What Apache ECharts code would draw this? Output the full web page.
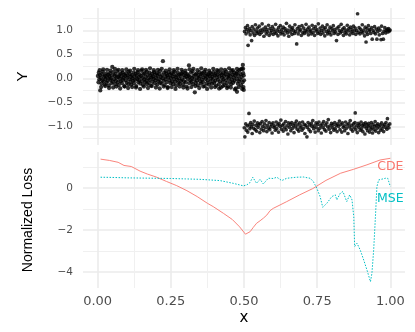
<!DOCTYPE html>
<html>
<head>
<meta charset="utf-8">
<script src="https://cdn.jsdelivr.net/npm/echarts@6/dist/echarts.min.js"></script>
<style>
  html, body { margin: 0; padding: 0; background: #fff; }
  #chart { width: 415px; height: 332px; }
</style>
</head>
<body>
<div id="chart"></div>
<script>
// top panel: noisy samples, y ~ 0 left of 0.5, y ~ +/-1 right of it
var leftPoints = [
  [0.001,0.05],[0.003,-0.08],[0.004,0.12],[0.006,-0.02],[0.008,0.07],[0.009,-0.25],[0.011,0.01],[0.013,-0.11],[0.015,0.09],[0.016,-0.04],
  [0.018,0.14],[0.02,-0.06],[0.022,0.03],[0.024,-0.13],[0.025,0.06],[0.027,-0.01],[0.029,0.1],[0.031,-0.09],[0.033,0.02],[0.034,-0.05],
  [0.036,0.08],[0.038,-0.15],[0.04,0.04],[0.042,0.11],[0.043,-0.03],[0.045,0.0],[0.047,-0.1],[0.049,0.06],[0.05,0.24],[0.052,-0.07],
  [0.054,0.13],[0.056,-0.02],[0.058,0.05],[0.06,-0.12],[0.061,0.09],[0.063,-0.05],[0.065,0.02],[0.067,0.15],[0.069,-0.08],[0.07,0.03],
  [0.072,-0.14],[0.074,0.07],[0.076,-0.01],[0.078,0.1],[0.079,-0.06],[0.081,0.04],[0.083,-0.1],[0.085,0.12],[0.087,-0.03],[0.088,0.01],
  [0.09,0.08],[0.092,-0.17],[0.094,0.05],[0.096,-0.04],[0.097,0.11],[0.099,-0.09],[0.101,0.02],[0.103,0.06],[0.105,-0.12],[0.106,0.14],
  [0.108,-0.02],[0.11,0.09],[0.112,-0.07],[0.114,0.03],[0.115,-0.13],[0.117,0.07],[0.119,0.0],[0.121,-0.05],[0.123,0.12],[0.124,-0.1],
  [0.126,0.04],[0.128,-0.03],[0.13,0.1],[0.132,-0.16],[0.133,0.06],[0.135,-0.01],[0.137,0.13],[0.139,-0.08],[0.141,0.02],[0.142,-0.04],
  [0.144,0.08],[0.146,-0.11],[0.148,0.05],[0.15,0.16],[0.151,-0.06],[0.153,0.01],[0.155,-0.14],[0.157,0.09],[0.159,-0.02],[0.16,0.11],
  [0.162,-0.08],[0.164,0.03],[0.166,-0.05],[0.168,0.14],[0.169,-0.12],[0.171,0.07],[0.173,0.0],[0.175,-0.09],[0.177,0.12],[0.178,-0.03],
  [0.18,0.06],[0.182,-0.15],[0.184,0.02],[0.186,0.1],[0.187,-0.07],[0.189,0.04],[0.191,-0.01],[0.193,0.13],[0.195,-0.1],[0.196,0.08],
  [0.198,-0.04],[0.2,0.01],[0.202,0.11],[0.204,-0.13],[0.205,0.05],[0.207,-0.06],[0.209,0.09],[0.211,-0.02],[0.213,0.15],[0.214,-0.09],
  [0.216,0.03],[0.218,-0.11],[0.22,0.07],[0.222,0.0],[0.223,0.36],[0.225,-0.05],[0.227,0.12],[0.229,-0.14],[0.231,0.04],[0.232,-0.02],
  [0.234,0.1],[0.236,-0.08],[0.238,0.06],[0.24,-0.18],[0.241,0.02],[0.243,0.13],[0.245,-0.04],[0.247,0.08],[0.249,-0.1],[0.25,0.01],
  [0.252,0.11],[0.254,-0.06],[0.256,0.04],[0.258,-0.12],[0.259,0.09],[0.261,-0.01],[0.263,0.14],[0.265,-0.07],[0.267,0.03],[0.268,-0.15],
  [0.27,0.06],[0.272,-0.03],[0.274,0.12],[0.276,-0.09],[0.277,0.0],[0.279,0.08],[0.281,-0.11],[0.283,0.05],[0.285,-0.05],[0.286,0.1],
  [0.288,-0.02],[0.29,0.13],[0.292,-0.13],[0.294,0.07],[0.295,-0.06],[0.297,0.02],[0.299,0.11],[0.301,-0.08],[0.303,0.04],[0.304,-0.17],
  [0.306,0.09],[0.308,-0.01],[0.31,0.06],[0.312,0.27],[0.313,-0.1],[0.315,0.03],[0.317,-0.04],[0.319,0.12],[0.321,-0.07],[0.322,0.01],
  [0.324,0.15],[0.326,-0.12],[0.328,0.05],[0.33,-0.02],[0.332,-0.29],[0.333,0.08],[0.335,-0.09],[0.337,0.1],[0.339,-0.05],[0.34,0.02],
  [0.342,-0.14],[0.344,0.07],[0.346,0.0],[0.348,0.13],[0.35,-0.06],[0.351,0.04],[0.353,-0.11],[0.355,0.09],[0.357,-0.03],[0.358,0.11],
  [0.36,-0.08],[0.362,0.02],[0.364,0.14],[0.366,-0.16],[0.367,0.06],[0.369,-0.01],[0.371,0.1],[0.373,-0.1],[0.375,0.03],[0.376,-0.04],
  [0.378,0.08],[0.38,-0.13],[0.382,0.05],[0.384,0.12],[0.385,-0.07],[0.387,0.0],[0.389,0.09],[0.391,-0.11],[0.393,0.04],[0.394,-0.02],
  [0.396,0.13],[0.398,-0.09],[0.4,0.06],[0.402,-0.05],[0.403,0.1],[0.405,-0.15],[0.407,0.02],[0.409,0.08],[0.411,-0.03],[0.412,0.15],
  [0.414,-0.12],[0.416,0.04],[0.418,-0.06],[0.42,0.11],[0.421,-0.19],[0.423,0.07],[0.425,0.01],[0.427,-0.08],[0.429,0.12],[0.43,-0.02],
  [0.432,0.05],[0.434,-0.14],[0.436,0.09],[0.438,-0.04],[0.439,0.14],[0.441,-0.1],[0.443,0.03],[0.445,-0.17],[0.447,0.07],[0.448,0.0],
  [0.45,0.11],[0.452,-0.07],[0.454,0.04],[0.456,-0.12],[0.457,0.16],[0.459,-0.03],[0.461,0.08],[0.463,-0.09],[0.465,0.02],[0.466,0.12],
  [0.468,-0.05],[0.47,0.06],[0.472,-0.21],[0.474,0.1],[0.475,-0.01],[0.476,-0.28],[0.477,0.13],[0.479,-0.11],[0.481,0.05],[0.483,-0.06],[0.484,0.17],
  [0.486,-0.02],[0.488,0.09],[0.49,-0.14],[0.492,0.03],[0.493,0.2],[0.495,-0.08],[0.496,0.28],[0.497,0.11],[0.498,-0.18],[0.499,0.06],[0.5,-0.04],
  [0.007,0.17],[0.012,-0.18],[0.019,0.19],[0.026,-0.16],[0.032,0.18],[0.039,-0.2],[0.044,0.16],[0.053,-0.19],[0.059,0.2],[0.064,-0.17],
  [0.071,0.18],[0.077,-0.21],[0.084,0.17],[0.091,-0.16],[0.098,0.19],[0.104,-0.2],[0.111,0.16],[0.118,-0.18],[0.125,0.2],[0.131,-0.19],
  [0.138,0.17],[0.145,-0.22],[0.152,0.19],[0.158,-0.17],[0.165,0.18],[0.172,-0.2],[0.179,0.21],[0.185,-0.16],[0.192,0.17],[0.199,-0.19],
  [0.206,0.18],[0.212,-0.21],[0.219,0.2],[0.226,-0.17],[0.233,0.16],[0.239,-0.2],[0.246,0.19],[0.253,-0.18],[0.26,0.17],[0.266,-0.22],
  [0.273,0.2],[0.28,-0.17],[0.287,0.18],[0.293,-0.19],[0.3,0.16],[0.307,-0.21],[0.314,0.19],[0.32,-0.18],[0.327,0.2],[0.334,-0.16],
  [0.341,0.17],[0.347,-0.2],[0.354,0.21],[0.361,-0.17],[0.368,0.18],[0.374,-0.22],[0.381,0.16],[0.388,-0.19],[0.395,0.2],[0.401,-0.18],
  [0.408,0.17],[0.415,-0.21],[0.422,0.19],[0.428,-0.16],[0.435,0.18],[0.442,-0.2],[0.449,0.21],[0.455,-0.19],[0.462,0.17],[0.469,-0.23],
  [0.476,0.2],[0.482,-0.18],[0.489,0.19],[0.494,-0.22],[0.497,0.2],[0.499,-0.24]
]
var upperPoints = [
  [0.502,0.98],[0.505,1.06],[0.507,0.93],[0.51,1.02],[0.512,1.1],[0.514,0.69],[0.516,0.97],[0.519,1.04],[0.521,0.91],[0.524,1.0],
  [0.526,0.79],[0.528,1.08],[0.531,0.95],[0.534,1.03],[0.536,0.9],[0.539,1.12],[0.541,0.99],[0.544,0.94],[0.546,1.05],[0.549,0.97],
  [0.552,1.09],[0.554,0.92],[0.557,1.01],[0.56,0.96],[0.562,1.14],[0.565,1.03],[0.568,0.88],[0.57,0.99],[0.573,1.07],[0.576,0.93],
  [0.578,1.02],[0.581,0.97],[0.584,1.11],[0.586,0.9],[0.589,1.04],[0.592,0.95],[0.594,1.0],[0.597,1.08],[0.6,0.92],[0.602,1.03],
  [0.605,0.97],[0.608,1.13],[0.61,0.94],[0.613,1.01],[0.616,0.89],[0.618,1.06],[0.621,0.98],[0.624,1.1],[0.626,0.93],[0.629,1.02],
  [0.632,0.96],[0.634,1.07],[0.637,0.91],[0.64,1.04],[0.642,0.99],[0.645,1.15],[0.648,0.95],[0.65,1.01],[0.653,0.88],[0.656,1.09],
  [0.658,0.97],[0.661,1.03],[0.664,0.92],[0.666,1.06],[0.669,1.0],[0.672,0.94],[0.674,1.12],[0.677,0.98],[0.68,0.72],[0.682,1.04],
  [0.685,0.93],[0.688,1.08],[0.69,0.99],[0.693,1.02],[0.696,0.9],[0.698,1.1],[0.701,0.96],[0.704,1.05],[0.706,0.94],[0.709,1.0],
  [0.712,1.13],[0.714,0.97],[0.717,1.03],[0.72,0.91],[0.722,1.07],[0.725,0.98],[0.728,1.01],[0.73,0.93],[0.733,1.11],[0.736,0.96],
  [0.738,1.04],[0.741,0.9],[0.744,1.08],[0.746,0.99],[0.749,1.02],[0.752,0.94],[0.754,1.14],[0.757,0.97],[0.76,1.05],[0.762,0.92],
  [0.765,1.0],[0.768,1.09],[0.77,0.95],[0.773,1.03],[0.776,0.89],[0.778,1.06],[0.781,0.98],[0.784,1.12],[0.786,0.93],[0.789,1.01],
  [0.792,0.96],[0.794,1.07],[0.797,0.91],[0.8,1.04],[0.802,0.99],[0.805,1.1],[0.808,0.94],[0.81,1.02],[0.813,0.97],[0.816,0.79],
  [0.818,1.05],[0.821,0.92],[0.824,1.08],[0.826,1.0],[0.829,0.95],[0.832,1.13],[0.834,0.98],[0.837,1.03],[0.84,0.9],[0.842,1.06],
  [0.845,0.96],[0.848,1.01],[0.85,0.93],[0.853,1.11],[0.856,0.99],[0.858,1.04],[0.861,0.91],[0.864,1.07],[0.866,0.97],[0.869,1.02],
  [0.872,0.94],[0.874,1.09],[0.877,0.99],[0.88,1.05],[0.882,0.92],[0.885,1.0],[0.888,1.35],[0.89,0.96],[0.893,1.06],[0.896,0.93],
  [0.898,1.03],[0.901,0.98],[0.904,1.12],[0.906,0.95],[0.909,1.01],[0.912,0.89],[0.914,1.07],[0.917,0.76],[0.918,0.97],[0.92,1.04],[0.922,0.92],
  [0.925,1.1],[0.928,0.99],[0.93,1.02],[0.933,0.94],[0.936,1.06],[0.938,0.82],[0.941,1.0],[0.944,0.96],[0.946,1.08],[0.949,0.93],
  [0.952,1.03],[0.954,0.82],[0.957,0.98],[0.96,1.05],[0.962,0.91],[0.965,1.01],[0.968,0.81],[0.97,1.09],[0.973,0.94],[0.976,0.82],
  [0.978,0.99],[0.981,1.06],[0.984,0.95],[0.986,1.0],[0.989,1.03],[0.992,0.97],[0.994,1.04],[0.997,0.99],[0.999,1.01]
]
var lowerPoints = [
  [0.501,-1.03],[0.503,-1.22],[0.506,-0.95],[0.508,-1.08],[0.511,-0.99],[0.513,-1.12],[0.517,-0.73],[0.518,-0.97],[0.52,-1.05],[0.523,-0.92],
  [0.525,-1.01],[0.528,-1.15],[0.53,-0.96],[0.533,-1.04],[0.535,-0.89],[0.538,-1.07],[0.541,-0.98],[0.543,-1.1],[0.546,-0.93],[0.548,-1.02],
  [0.551,-0.97],[0.554,-1.13],[0.556,-0.94],[0.559,-1.06],[0.562,-0.9],[0.564,-1.0],[0.567,-1.09],[0.57,-0.95],[0.572,-1.03],[0.575,-0.88],
  [0.578,-1.11],[0.58,-0.98],[0.583,-1.04],[0.586,-0.92],[0.588,-1.07],[0.591,-1.01],[0.594,-0.96],[0.596,-1.14],[0.599,-0.93],[0.602,-1.02],
  [0.604,-0.99],[0.607,-1.08],[0.61,-0.91],[0.612,-1.05],[0.615,-0.97],[0.618,-1.12],[0.62,-0.94],[0.623,-1.0],[0.626,-0.87],[0.628,-1.06],
  [0.631,-0.98],[0.634,-1.1],[0.636,-0.95],[0.639,-1.03],[0.642,-0.9],[0.644,-1.07],[0.647,-0.99],[0.65,-1.16],[0.652,-0.93],[0.655,-1.02],
  [0.658,-0.96],[0.66,-1.09],[0.663,-0.92],[0.666,-1.04],[0.668,-0.98],[0.671,-1.13],[0.674,-0.94],[0.676,-1.01],[0.679,-0.89],[0.682,-1.06],
  [0.684,-0.97],[0.687,-1.1],[0.69,-0.93],[0.692,-1.03],[0.695,-0.99],[0.698,-1.08],[0.7,-0.91],[0.703,-1.04],[0.706,-0.96],[0.708,-1.15],
  [0.711,-0.98],[0.715,-1.22],[0.716,-1.02],[0.719,-0.92],[0.722,-1.07],[0.724,-0.97],[0.727,-1.11],[0.73,-0.94],[0.732,-1.0],[0.735,-0.88],
  [0.738,-1.05],[0.74,-0.99],[0.743,-1.12],[0.746,-0.93],[0.748,-1.03],[0.751,-0.96],[0.754,-1.09],[0.756,-0.91],[0.759,-1.04],[0.762,-0.98],
  [0.764,-1.14],[0.767,-0.95],[0.77,-1.02],[0.772,-0.9],[0.775,-1.07],[0.778,-0.97],[0.78,-1.1],[0.783,-0.93],[0.786,-1.01],[0.788,-0.86],
  [0.791,-1.06],[0.794,-0.99],[0.796,-1.13],[0.799,-0.94],[0.802,-1.03],[0.804,-0.97],[0.807,-1.08],[0.81,-0.92],[0.812,-1.05],[0.815,-0.98],
  [0.818,-1.11],[0.82,-0.95],[0.823,-1.0],[0.826,-0.89],[0.828,-1.07],[0.831,-0.96],[0.834,-1.12],[0.836,-0.93],[0.839,-1.02],[0.842,-0.99],
  [0.844,-1.09],[0.847,-0.91],[0.85,-1.04],[0.852,-0.97],[0.855,-1.15],[0.858,-0.94],[0.86,-1.01],[0.863,-0.88],[0.866,-1.06],[0.868,-0.98],
  [0.871,-1.1],[0.874,-0.95],[0.876,-1.03],[0.879,-0.92],[0.88,-0.72],[0.882,-1.07],[0.884,-0.99],[0.887,-1.13],[0.89,-0.94],[0.892,-1.02],
  [0.895,-0.97],[0.897,-1.08],[0.9,-0.91],[0.902,-1.05],[0.904,-0.98],[0.906,-1.11],[0.909,-0.95],[0.911,-1.0],[0.913,-1.16],[0.915,-0.93],
  [0.918,-1.04],[0.92,-0.97],[0.922,-1.09],[0.924,-1.01],[0.926,-0.94],[0.929,-1.12],[0.931,-0.99],[0.933,-1.06],[0.935,-0.92],[0.937,-1.03],
  [0.939,-1.14],[0.941,-0.96],[0.944,-1.07],[0.946,-1.0],[0.948,-0.9],[0.95,-1.1],[0.953,-0.98],[0.955,-1.04],[0.957,-0.95],[0.96,-1.13],
  [0.962,-1.01],[0.965,-0.97],[0.967,-1.08],[0.97,-0.93],[0.972,-1.05],[0.975,-0.99],[0.977,-1.11],[0.98,-0.96],[0.983,-1.02],[0.985,-0.92],
  [0.988,-1.06],[0.99,-0.84],[0.992,-0.98],[0.995,-1.03],[0.998,-0.95]
]

// bottom panel: normalized loss curves
var cdeLoss = [
  [0.01,1.37],[0.04,1.31],[0.07,1.22],[0.09,1.07],[0.115,1.02],[0.145,0.8],[0.17,0.66],[0.2,0.52],[0.235,0.31],[0.27,0.11],
  [0.305,-0.13],[0.34,-0.41],[0.375,-0.73],[0.395,-0.89],[0.43,-1.21],[0.46,-1.5],[0.485,-1.85],[0.505,-2.2],[0.521,-2.08],[0.532,-1.87],
  [0.543,-1.68],[0.555,-1.56],[0.566,-1.44],[0.578,-1.29],[0.589,-1.08],[0.6,-0.97],[0.623,-0.81],[0.646,-0.65],[0.69,-0.33],[0.735,-0.03],
  [0.78,0.36],[0.83,0.7],[0.875,0.89],[0.92,1.1],[0.965,1.33],[1.0,1.41]
]
var mseLoss = [
  [0.01,0.51],[0.05,0.5],[0.1,0.48],[0.15,0.47],[0.2,0.46],[0.25,0.45],[0.3,0.43],[0.349,0.41],[0.418,0.35],[0.463,0.22],
  [0.498,0.1],[0.51,0.15],[0.52,0.25],[0.53,0.51],[0.543,0.22],[0.555,0.41],[0.566,0.19],[0.583,0.46],[0.6,0.45],[0.612,0.51],
  [0.629,0.35],[0.646,0.46],[0.68,0.51],[0.703,0.52],[0.726,0.46],[0.737,0.3],[0.749,-0.02],[0.76,-0.41],[0.769,-0.92],[0.783,-0.73],
  [0.8,-0.41],[0.812,-0.33],[0.817,-0.57],[0.829,-0.25],[0.838,-0.17],[0.851,-0.65],[0.861,-0.33],[0.869,-0.57],[0.875,-1.37],[0.878,-2.79],
  [0.886,-2.63],[0.897,-2.95],[0.909,-3.43],[0.92,-3.9],[0.932,-4.46],[0.937,-4.06],[0.943,-2.95],[0.949,-1.37],[0.954,0.06],[0.96,0.38],
  [0.983,0.46],[0.991,0.46],[1.0,0.06]
]

var xTicks = [0, 0.25, 0.5, 0.75, 1]
var xMinor = [0.125, 0.375, 0.625, 0.875]
var yTopTicks = [-1, -0.5, 0, 0.5, 1]
var yTopMinor = [-1.25, -0.75, -0.25, 0.25, 0.75, 1.25]
var yLossTicks = [-4, -2, 0]
var yLossMinor = [-3, -1, 1]

var gridColor = '#EBEBEB'
var minorColor = '#F0F0F0'
var textColor = '#4D4D4D'
var cdeColor = '#F8766D'
var mseColor = '#00BFC4'

function minus(s) {
  return String(s).replace('-', '\u2212')
}

function majorAxis(gridIndex, min, max, ticks, label) {
  return {
    type: 'value',
    gridIndex: gridIndex,
    min: min,
    max: max,
    axisLine: { show: false },
    axisTick: { show: false, customValues: ticks },
    axisLabel: label ? Object.assign({ customValues: ticks }, label) : { show: false, customValues: ticks },
    splitLine: { show: true, lineStyle: { color: gridColor, width: 1.6 } }
  }
}

function minorAxis(gridIndex, min, max, ticks) {
  return {
    type: 'value',
    gridIndex: gridIndex,
    min: min,
    max: max,
    axisLine: { show: false },
    axisTick: { show: false, customValues: ticks },
    axisLabel: { show: false, customValues: ticks },
    splitLine: { show: true, lineStyle: { color: minorColor, width: 1.1 } }
  }
}

var chart = echarts.init(document.getElementById('chart'), null, { renderer: 'canvas' })

var xLabel = {
  color: textColor,
  fontFamily: 'DejaVu Sans',
  fontSize: 13,
  margin: 7,
  formatter: function(v) { return v.toFixed(2) }
}
var yTopLabel = {
  color: textColor,
  fontFamily: 'DejaVu Sans',
  fontSize: 10.5,
  margin: 10,
  formatter: function(v) { return minus(v.toFixed(1)) }
}
var yLossLabel = {
  color: textColor,
  fontFamily: 'DejaVu Sans',
  fontSize: 10.5,
  margin: 10,
  formatter: function(v) { return minus(v) }
}

var xAxisTop = majorAxis(0, -0.05, 1.05, xTicks, null)
var xAxisBottom = majorAxis(1, -0.05, 1.05, xTicks, xLabel)
xAxisBottom.name = 'x'
xAxisBottom.nameLocation = 'middle'
xAxisBottom.nameGap = 23
xAxisBottom.nameTextStyle = { color: '#000', fontFamily: 'DejaVu Sans', fontSize: 15 }

var yAxisTop = majorAxis(0, -1.39, 1.47, yTopTicks, yTopLabel)
yAxisTop.name = 'Y'
yAxisTop.nameLocation = 'middle'
yAxisTop.nameGap = 53
yAxisTop.nameTextStyle = { color: '#000', fontFamily: 'Liberation Sans Narrow, Liberation Sans', fontSize: 15 }

var yAxisLoss = majorAxis(1, -4.76, 1.71, yLossTicks, yLossLabel)
yAxisLoss.name = 'Normalized Loss'
yAxisLoss.nameLocation = 'middle'
yAxisLoss.nameGap = 48
yAxisLoss.nameTextStyle = { color: '#000', fontFamily: 'Liberation Sans Narrow, Liberation Sans', fontSize: 14 }

chart.setOption({
  backgroundColor: '#fff',
  animation: false,
  grid: [
    { left: 83, right: 10, top: 8, height: 137 },
    { left: 83, right: 10, top: 152, height: 136 }
  ],
  xAxis: [
    xAxisTop,
    xAxisBottom,
    minorAxis(0, -0.05, 1.05, xMinor),
    minorAxis(1, -0.05, 1.05, xMinor)
  ],
  yAxis: [
    yAxisTop,
    yAxisLoss,
    minorAxis(0, -1.39, 1.47, yTopMinor),
    minorAxis(1, -4.76, 1.71, yLossMinor)
  ],
  series: [
    {
      name: 'left',
      type: 'scatter',
      xAxisIndex: 0,
      yAxisIndex: 0,
      data: leftPoints,
      symbolSize: 4.3,
      itemStyle: { color: '#000' },
      z: 5
    },
    {
      name: 'upper',
      type: 'scatter',
      xAxisIndex: 0,
      yAxisIndex: 0,
      data: upperPoints,
      symbolSize: 3.7,
      itemStyle: { color: '#000' },
      z: 5
    },
    {
      name: 'lower',
      type: 'scatter',
      xAxisIndex: 0,
      yAxisIndex: 0,
      data: lowerPoints,
      symbolSize: 3.7,
      itemStyle: { color: '#000' },
      z: 5
    },
    {
      name: 'CDE',
      type: 'line',
      xAxisIndex: 1,
      yAxisIndex: 1,
      data: cdeLoss,
      showSymbol: false,
      lineStyle: { color: cdeColor, width: 0.9 },
      z: 5,
      markPoint: {
        symbol: 'circle',
        symbolSize: 0,
        silent: true,
        label: { show: true, formatter: 'CDE', color: cdeColor, fontFamily: 'DejaVu Sans', fontSize: 12.5 },
        data: [{ coord: [1.0, 1.0] }]
      }
    },
    {
      name: 'MSE',
      type: 'line',
      xAxisIndex: 1,
      yAxisIndex: 1,
      data: mseLoss,
      showSymbol: false,
      lineStyle: { color: mseColor, width: 1, type: [1.5, 1.5] },
      z: 5,
      markPoint: {
        symbol: 'circle',
        symbolSize: 0,
        silent: true,
        label: { show: true, formatter: 'MSE', color: mseColor, fontFamily: 'DejaVu Sans', fontSize: 12.5 },
        data: [{ coord: [1.0, -0.52] }]
      }
    }
  ]
})
</script>
</body>
</html>
